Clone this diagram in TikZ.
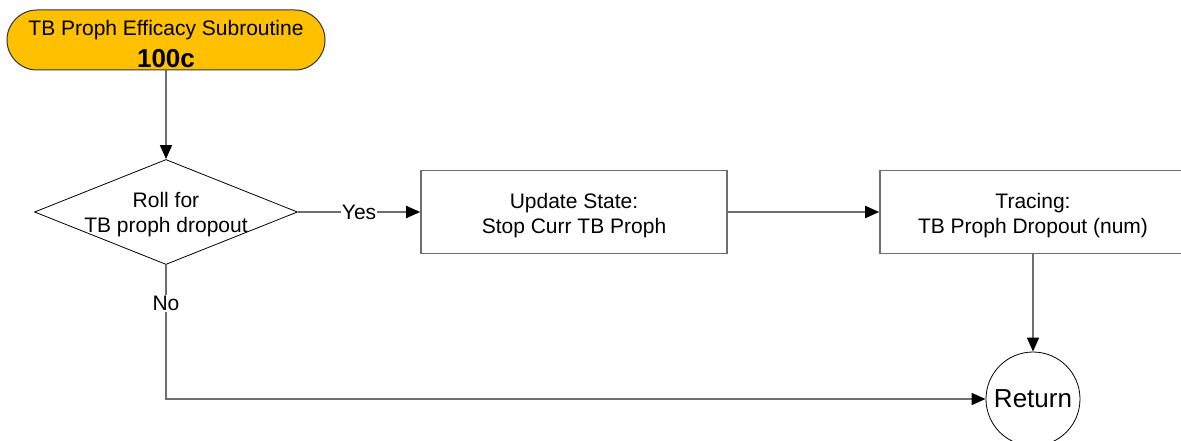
\documentclass[tikz,border=0pt]{standalone}
\usepackage{fontspec}
\setmainfont{Liberation Sans}
\usetikzlibrary{arrows.meta,shapes.geometric}
\definecolor{linegray}{HTML}{6E6E6E}
\definecolor{startfill}{HTML}{FFC000}
\begin{document}
\begin{tikzpicture}[x=1pt,y=-1pt,
  txt/.style={font=\fontsize{21}{25}\selectfont, align=center, text=black},
  flow/.style={draw=linegray, line width=1.6pt, -{Triangle[length=14pt,width=12pt,color=black]}},
  startbox/.style={draw=black!80, line width=1pt, fill=startfill, rounded corners=30pt,
    minimum width=318pt, minimum height=60pt, inner sep=0pt, txt},
  decbox/.style={draw=black, line width=0.8pt, shape=diamond, minimum width=263pt,
    minimum height=105pt, inner sep=0pt},
  procbox/.style={draw=linegray, line width=1.6pt, minimum width=306pt,
    minimum height=83pt, inner sep=0pt, txt},
  endcircle/.style={draw=black, line width=0.8pt, circle, minimum size=94pt, inner sep=0pt,
    font=\fontsize{26}{30}\selectfont},
  lbl/.style={fill=white, inner sep=1pt, txt}
]
\clip (0,0) rectangle (1181,441);
\fill[white] (0,0) rectangle (1181,441);
\node[startbox] (start) at (166,40) {\rule{0pt}{24pt}TB Proph Efficacy Subroutine\\[7pt]{\fontsize{26}{26}\selectfont\bfseries 100c}};
\node[decbox] (dec) at (166,212) {};
\node[txt] (dectext) at (166,214.5) {Roll for\\TB proph dropout};
\node[procbox] (upd) at (574,212) {\rule{0pt}{22pt}Update State:\\Stop Curr TB Proph};
\node[procbox] (trc) at (1033,212) {\rule{0pt}{22pt}Tracing:\\TB Proph Dropout (num)};
\node[endcircle] (ret) at (1033,399) {Return};
\draw[flow] (start) -- (dec);
\draw[flow] (dec) -- node[lbl] {Yes} (upd);
\draw[flow] (upd) -- (trc);
\draw[flow] (trc) -- (ret);
\draw[flow] (dec.south) |- node[lbl, pos=0.144] {No} (ret);
\end{tikzpicture}
\end{document}
